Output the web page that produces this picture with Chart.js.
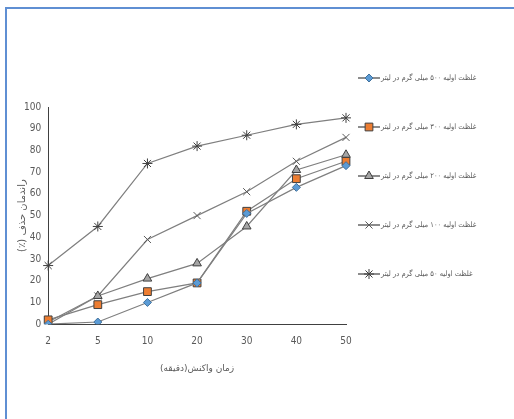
<!DOCTYPE html>
<html>
<head>
  <meta charset="UTF-8">
  <title>Chart</title>
  <style>
    body { margin: 0; background: #fff; overflow: hidden; }
    .wrap { position: relative; width: 514px; height: 419px; overflow: hidden; }
    .frame {
      position: absolute; left: 5px; top: 7px; right: -6px; bottom: -6px;
      border-top: 2px solid #5f8fd3; border-left: 2px solid #5f8fd3;
      pointer-events: none;
    }
    canvas { position: absolute; left: 0; top: 0; }
  </style>
  <script src="https://cdn.jsdelivr.net/npm/chart.js@4.4.0/dist/chart.umd.min.js"></script>
</head>
<body>
  <div class="wrap">
    <div class="frame"></div>
    <canvas id="myChart" width="514" height="419"></canvas>
  </div>

  <script>
    var xLabels = ["2", "5", "10", "20", "30", "40", "50"];
    var seriesNames = [
      "غلظت اولیه ۵۰۰ میلی گرم در لیتر",
      "غلظت اولیه ۳۰۰ میلی گرم در لیتر",
      "غلظت اولیه ۲۰۰ میلی گرم در لیتر",
      "غلظت اولیه ۱۰۰ میلی گرم در لیتر",
      "غلظت اولیه ۵۰ میلی گرم در لیتر"
    ];
    var c500 = [0, 1, 10, 19, 51, 63, 73];
    var c300 = [2, 9, 15, 19, 52, 67, 75];
    var c200 = [0, 13, 21, 28, 45, 71, 78];
    var c100 = [1, 13, 39, 50, 61, 75, 86];
    var c50 = [27, 45, 74, 82, 87, 92, 95];

    var RLM = "\u200F";
    var tickFont = "'Liberation Sans Narrow', 'DejaVu Sans Condensed', sans-serif";
    var faFont = "'DejaVu Sans', sans-serif";
    var lineColor = "#7f7f7f";

    function makeSet(label, data, style, radius, fill, border) {
      return {
        label: label,
        data: data,
        borderColor: lineColor,
        borderWidth: 1.2,
        tension: 0,
        pointStyle: style,
        pointRadius: radius,
        pointBackgroundColor: fill,
        pointBorderColor: border,
        pointBorderWidth: 1
      };
    }

    // legend drawn by hand: line sample with marker in the middle
    var sideLegend = {
      id: "sideLegend",
      afterDraw: function (chart) {
        var ctx = chart.ctx;
        var lx = 358, top = 78, gap = 49;
        chart.data.datasets.forEach(function (ds, i) {
          var y = top + i * gap;
          ctx.save();
          ctx.strokeStyle = "#404040";
          ctx.lineWidth = 1.2;
          ctx.beginPath();
          ctx.moveTo(lx, y);
          ctx.lineTo(lx + 22, y);
          ctx.stroke();
          ctx.fillStyle = ds.pointBackgroundColor;
          ctx.strokeStyle = ds.pointBorderColor;
          ctx.lineWidth = ds.pointBorderWidth;
          Chart.helpers.drawPoint(ctx, {
            pointStyle: ds.pointStyle, radius: ds.pointRadius,
            borderWidth: ds.pointBorderWidth, rotation: 0
          }, lx + 11, y);
          ctx.fillStyle = "#595959";
          ctx.font = "7.5px 'DejaVu Sans Condensed', sans-serif";
          ctx.direction = "rtl";
          ctx.textAlign = "left";
          ctx.textBaseline = "middle";
          ctx.fillText(ds.label, lx + 23, y);
          ctx.restore();
        });
      }
    };

    new Chart("myChart", {
      type: "line",
      data: {
        labels: xLabels,
        datasets: [
          makeSet(seriesNames[0], c500, "rectRot", 4, "#5b9bd5", "#41719c"),
          makeSet(seriesNames[1], c300, "rect", 5.5, "#ed7d31", "#404040"),
          makeSet(seriesNames[2], c200, "triangle", 5, "#a5a5a5", "#404040"),
          makeSet(seriesNames[3], c100, "crossRot", 5, "#7f7f7f", "#595959"),
          makeSet(seriesNames[4], c50, "star", 5, "#7f7f7f", "#404040")
        ]
      },
      options: {
        responsive: false,
        animation: false,
        layout: { padding: { top: 107, right: 168, bottom: 45, left: 16 } },
        plugins: {
          legend: { display: false },
          tooltip: { enabled: false }
        },
        scales: {
          x: {
            offset: false,
            grid: { display: false, drawTicks: false },
            border: { display: true, color: "#404040", width: 1 },
            ticks: { color: "#595959", font: { family: tickFont, size: 10 }, padding: 11 },
            title: {
              display: true, text: RLM + "زمان واکنش(دقیقه)" + RLM, color: "#595959",
              font: { family: faFont, size: 9 }, padding: { top: 5, bottom: 0 }
            }
          },
          y: {
            min: 0, max: 100,
            grid: { display: false, drawTicks: false },
            border: { display: true, color: "#404040", width: 1 },
            ticks: { stepSize: 10, color: "#595959", font: { family: tickFont, size: 10 }, padding: 7 },
            title: {
              display: true, text: RLM + "راندمان حذف (٪)" + RLM, color: "#595959",
              font: { family: faFont, size: 10 }, padding: { top: 0, bottom: -11 }
            }
          }
        }
      },
      plugins: [sideLegend]
    });
  </script>
</body>
</html>
